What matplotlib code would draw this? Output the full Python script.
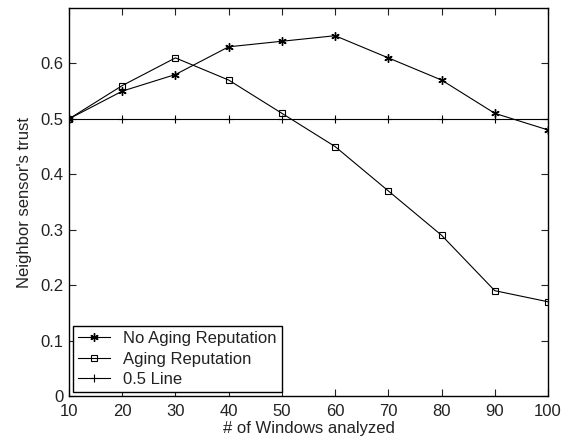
import numpy as np
import matplotlib
matplotlib.use('Agg')
import matplotlib.pyplot as plt

plt.rcParams['font.family'] = ['Liberation Sans', 'DejaVu Sans']

# данные
windows = [10, 20, 30, 40, 50, 60, 70, 80, 90, 100]
no_aging = [0.50, 0.55, 0.58, 0.63, 0.64, 0.65, 0.61, 0.57, 0.51, 0.48]
aging = [0.50, 0.56, 0.61, 0.57, 0.51, 0.45, 0.37, 0.29, 0.19, 0.17]
half_line = [0.5] * len(windows)

fig = plt.figure(figsize=(5.62, 4.36), dpi=100)
ax = fig.add_axes([69 / 562, 40 / 436, 479 / 562, 388 / 436])

ax.plot(windows, no_aging, color='black', lw=0.8, marker=(6, 2, 0), ms=6, mew=1.0,
        label='No Aging Reputation')
ax.plot(windows, aging, color='black', lw=0.8, marker='s', ms=5, mfc='none', mew=0.8,
        label='Aging Reputation')
ax.plot(windows, half_line, color='black', lw=0.8, marker='+', ms=6, mew=0.8,
        label='0.5 Line')

ax.set_xlim(10, 100)
ax.set_ylim(0, 0.7)
ax.set_xticks(windows)
ax.set_yticks([0, 0.1, 0.2, 0.3, 0.4, 0.5, 0.6])
ax.set_yticklabels(['0', '0.1', '0.2', '0.3', '0.4', '0.5', '0.6'])
ax.tick_params(direction='in', top=True, right=True, labelsize=12, length=5, width=0.8,
               colors='#222222')
ax.tick_params(axis='x', pad=6)
ax.tick_params(axis='y', pad=4)
for s in ax.spines.values():
    s.set_linewidth(1.0)

ax.set_xlabel('# of Windows analyzed', fontsize=12, labelpad=1, color='#222222')
ax.set_ylabel("Neighbor sensor's trust", fontsize=12, labelpad=6, color='#222222')

leg = ax.legend(loc='lower left', fontsize=12, fancybox=False, edgecolor='black',
                framealpha=1, borderaxespad=0.25, handlelength=1.9, labelspacing=0.32,
                borderpad=0.3, handletextpad=0.8)
leg.get_frame().set_linewidth(1.0)
for t in leg.get_texts():
    t.set_color('#222222')

fig.savefig('out.png', dpi=100)
